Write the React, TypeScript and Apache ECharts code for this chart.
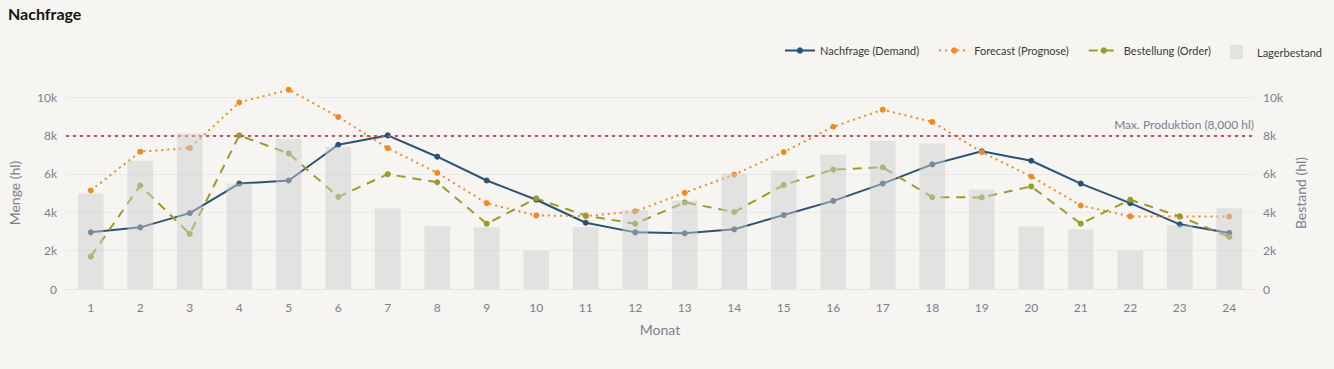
import React, { useEffect, useRef } from "react";
import * as echarts from "echarts";

const months = ["1","2","3","4","5","6","7","8","9","10","11","12","13","14","15","16","17","18","19","20","21","22","23","24"];
const demand = [2950,3210,3950,5490,5650,7510,8000,6890,5650,4650,3450,2950,2900,3110,3850,4590,5490,6490,7170,6680,5490,4470,3370,2920];
const forecast = [5130,7150,7340,9720,10380,8960,7340,6050,4470,3830,3800,4040,5010,5960,7130,8450,9340,8700,7130,5860,4350,3780,3780,3770];
const order = [1690,5390,2870,8000,7060,4800,5980,5560,3400,4720,3820,3400,4510,4010,5420,6220,6340,4780,4770,5340,3400,4650,3780,2710];
const inventory = [4970,6680,8100,5490,7820,7410,4200,3280,3210,1990,3230,4110,4610,6010,6170,6990,7720,7580,5180,3260,3110,2020,3320,4200];
const maxProduction = 8000;

const FONT = "Lato";
const GRAY = "#7b7f8e";

export default function App() {
  const ref = useRef<HTMLDivElement>(null);
  useEffect(() => {
    if (!ref.current) return;
    const chart = echarts.init(ref.current, undefined, { renderer: "svg" });
    const axisCommon = {
      type: "value" as const,
      min: 0,
      max: 10000,
      interval: 2000,
      axisLine: { show: false },
      axisTick: { show: false },
      axisLabel: {
        color: GRAY,
        fontFamily: FONT,
        fontSize: 12,
        margin: 9,
        formatter: (v: number) => (v === 0 ? "0" : v / 1000 + "k"),
      },
      nameLocation: "middle" as const,
      nameTextStyle: { color: GRAY, fontFamily: FONT, fontSize: 14 },
    };
    chart.setOption({
      animation: false,
      backgroundColor: "#f6f5f1",
      textStyle: { fontFamily: FONT },
      title: {
        text: "Nachfrage",
        left: 8,
        top: 5,
        padding: 0,
        textStyle: { fontFamily: FONT, fontSize: 16, fontWeight: "bold", color: "#141414" },
      },
      legend: [
        {
          right: 118,
          top: 40,
          itemWidth: 30,
          itemHeight: 8,
          itemGap: 19,
          textStyle: { color: "#3a3a3a", fontFamily: FONT, fontSize: 11 },
          data: ["Nachfrage (Demand)", "Forecast (Prognose)", "Bestellung (Order)"],
        },
        {
          right: 7,
          top: 40,
          itemWidth: 13,
          itemHeight: 14,
          textStyle: { color: "#3a3a3a", fontFamily: FONT, fontSize: 11, padding: [0, 0, 0, 9] },
          data: [{ name: "Lagerbestand", icon: "rect" }],
        },
      ],
      grid: { left: 66, right: 80, top: 97, bottom: 80, containLabel: false, outerBoundsMode: "none" },
      xAxis: {
        type: "category",
        data: months,
        name: "Monat",
        nameLocation: "middle",
        nameGap: 33,
        nameTextStyle: { color: GRAY, fontFamily: FONT, fontSize: 14 },
        axisLine: { show: true, lineStyle: { color: "#e3e4ee" } },
        axisTick: { show: false },
        axisLabel: { color: GRAY, fontFamily: FONT, fontSize: 12, margin: 12 },
      },
      yAxis: [
        {
          ...axisCommon,
          name: "Menge (hl)",
          nameGap: 45,
          splitLine: { show: true, lineStyle: { color: "#e8e8f0", width: 1 } },
        },
        {
          ...axisCommon,
          name: "Bestand (hl)",
          nameGap: 38,
          position: "right",
          splitLine: { show: false },
        },
      ],
      series: [
        {
          name: "Nachfrage (Demand)",
          type: "line",
          data: demand,
          z: 3,
          clip: false,
          symbol: "circle",
          symbolSize: 6,
          lineStyle: { color: "#2c5273", width: 2 },
          itemStyle: { color: "#2c5273" },
          markLine: {
            silent: true,
            symbol: "none",
            lineStyle: { color: "#c4505e", type: [3, 4], width: 2 },
            label: {
              show: true,
              position: "insideEndTop",
              formatter: "Max. Produktion (8,000 hl)",
              color: GRAY,
              fontFamily: FONT,
              fontSize: 12,
              distance: [0, 5],
            },
            data: [{ yAxis: maxProduction }],
          },
        },
        {
          name: "Forecast (Prognose)",
          type: "line",
          data: forecast,
          z: 3,
          clip: false,
          symbol: "circle",
          symbolSize: 6,
          lineStyle: { color: "#f08a24", width: 2, type: [2, 4] },
          itemStyle: { color: "#f08a24" },
        },
        {
          name: "Bestellung (Order)",
          type: "line",
          data: order,
          z: 3,
          clip: false,
          symbol: "circle",
          symbolSize: 6,
          lineStyle: { color: "#9a9b2b", width: 2, type: [9, 7] },
          itemStyle: { color: "#9a9b2b" },
        },
        {
          name: "Lagerbestand",
          type: "bar",
          yAxisIndex: 1,
          data: inventory,
          barWidth: "52%",
          z: 5,
          itemStyle: { color: "rgba(205,205,205,0.48)" },
        },
      ],
    });
    return () => chart.dispose();
  }, []);
  return (
    <div
      ref={ref}
      style={{ position: "fixed", left: 0, top: 0, width: 1334, height: 369 }}
    />
  );
}
